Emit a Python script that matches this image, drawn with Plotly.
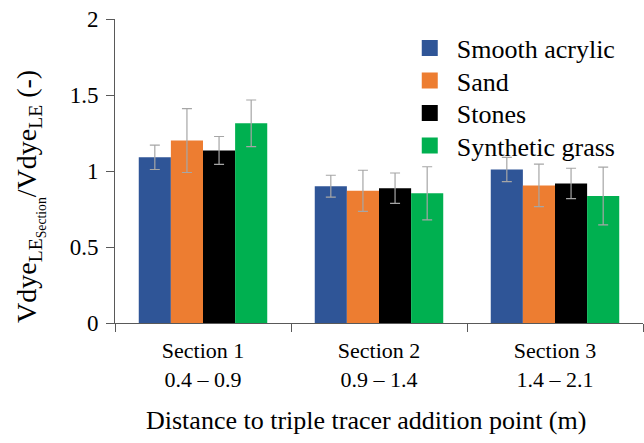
import plotly.graph_objects as go

sections = ["Section 1<br>0.4 – 0.9", "Section 2<br>0.9 – 1.4", "Section 3<br>1.4 – 2.1"]
series_names = ["Smooth acrylic", "Sand", "Stones", "Synthetic grass"]
smooth_acrylic = [1.09, 0.90, 1.01]
sand = [1.20, 0.87, 0.905]
stones = [1.135, 0.887, 0.918]
synthetic_grass = [1.314, 0.853, 0.835]
err_smooth_acrylic = [0.08, 0.072, 0.08]
err_sand = [0.21, 0.135, 0.14]
err_stones = [0.092, 0.10, 0.10]
err_synthetic_grass = [0.153, 0.175, 0.19]
y_title = "Vdye<sub>LE<sub>Section</sub></sub>/Vdye<sub>LE</sub> (-)"
x_title = "Distance to triple tracer addition point (m)"

colors = ["#2F5597", "#ED7D31", "#000000", "#00B050"]
values = [smooth_acrylic, sand, stones, synthetic_grass]
errors = [err_smooth_acrylic, err_sand, err_stones, err_synthetic_grass]

FONT = "Liberation Serif"
legend_ids = ["legend", "legend2", "legend3", "legend4"]
legend_y = [0.9046, 0.7977, 0.6908, 0.5839]

fig = go.Figure()
for name, vals, errs, col in zip(series_names, values, errors, colors):
    fig.add_trace(go.Bar(
        x=sections, y=vals, name=name, showlegend=False,
        marker=dict(color=col, line=dict(width=0)),
        error_y=dict(type="data", array=errs, visible=True,
                     color="#A6A6A6", thickness=1.2, width=5),
    ))
for name, col, lid in zip(series_names, colors, legend_ids):
    fig.add_trace(go.Scatter(
        x=[None], y=[None], mode="markers", name=name, legend=lid,
        marker=dict(symbol="square", size=16, color=col),
    ))

legend_cfg = {}
for lid, ly in zip(legend_ids, legend_y):
    legend_cfg[lid] = dict(
        x=0.545, y=ly, xanchor="left", yanchor="middle",
        font=dict(family=FONT, size=26, color="#000000"),
        bgcolor="rgba(0,0,0,0)", itemwidth=44,
    )

fig.update_layout(
    width=644, height=443,
    margin=dict(l=115, r=1, t=19, b=120),
    paper_bgcolor="white", plot_bgcolor="white",
    barmode="group", bargap=0.27, bargroupgap=0,
    font=dict(family=FONT, color="#000000", size=22),
    xaxis=dict(
        type="category", range=[-0.5, 2.5],
        showline=True, linecolor="#595959", linewidth=1,
        ticks="outside", tickson="boundaries", ticklen=8, tickcolor="#595959",
        tickfont=dict(family=FONT, size=22), ticklabelstandoff=8,
        showgrid=False,
    ),
    yaxis=dict(
        range=[0, 2], tickvals=[0, 0.5, 1, 1.5, 2], ticktext=["0", "0.5", "1", "1.5", "2"],
        showline=True, linecolor="#595959", linewidth=1,
        ticks="outside", ticklen=8, tickcolor="#595959",
        tickfont=dict(family=FONT, size=23), ticklabelstandoff=3,
        showgrid=False, zeroline=False,
    ),
    annotations=[
        dict(text=y_title, textangle=-90, xref="paper", yref="paper",
             x=-0.161, y=0.418, xanchor="center", yanchor="middle", showarrow=False,
             font=dict(family=FONT, size=28, color="#000000")),
        dict(text=x_title, xref="paper", yref="paper",
             x=0.475, y=-0.32, xanchor="center", yanchor="middle", showarrow=False,
             font=dict(family=FONT, size=26, color="#000000")),
    ],
    **legend_cfg,
)

fig.write_html("out.html")
